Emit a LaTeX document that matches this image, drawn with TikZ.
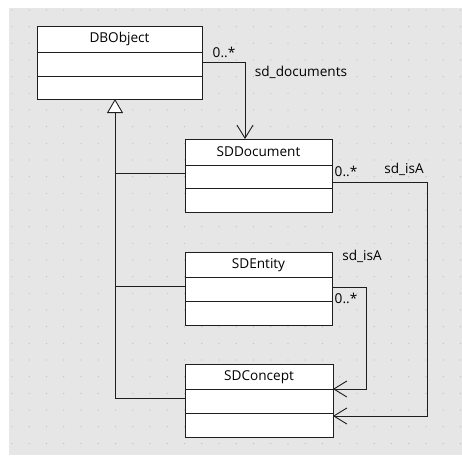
\documentclass[tikz,border=0pt]{standalone}
\usepackage{fontspec}
\setmainfont{Open Sans}
\usetikzlibrary{arrows.meta,calc,shadows}
\definecolor{bg}{HTML}{E6E6E6}
\definecolor{dotc}{HTML}{BEBEBE}
\definecolor{ln}{HTML}{1E1E1E}
\begin{document}
\begin{tikzpicture}[x=1pt,y=-1pt,font=\fontsize{13.6}{15}\selectfont,
  classbox/.style={draw=ln, fill=white, line width=0.9pt, minimum height=73pt,
    anchor=north west, inner sep=0pt, outer sep=0pt,
    drop shadow={shadow xshift=1.2pt, shadow yshift=-1.2pt, fill=gray!80, opacity=1}},
  title/.style={inner sep=0pt, text=black},
  lbl/.style={inner sep=0pt, text=black},
  divider/.style={draw=ln, line width=0.9pt},
  conn/.style={draw=ln, line width=0.9pt},
  assoc/.style={conn, -{Straight Barb[length=13pt,width=16pt,line width=0.9pt]}},
  gen/.style={conn, -{Triangle[open,length=14pt,width=16pt,fill=white,line width=0.9pt]}}
]
\useasboundingbox (0,0) rectangle (462,455);
\fill[bg] (9,8) rectangle (462,455);
\foreach \i in {0,...,26}
  \foreach \j in {0,...,26}
    \fill[dotc] ({12+17.25*\i},{10+16.67*\j}) circle (0.6);

% classes
\node[classbox, minimum width=165pt] (dbo) at (37,26) {};
\node[classbox, minimum width=147pt] (sddoc) at (185,139) {};
\node[classbox, minimum width=147pt] (sdent) at (185,252) {};
\node[classbox, minimum width=148pt] (sdcon) at (185,364) {};

\node[title] (dbot) at ($(dbo.north)+(0,13)$) {DBObject};
\node[title] (sddoct) at ($(sddoc.north)+(0,13)$) {SDDocument};
\node[title] (sdentt) at ($(sdent.north)+(0,13)$) {SDEntity};
\node[title] (sdcont) at ($(sdcon.north)+(0,13)$) {SDConcept};

\foreach \b/\a/\c in {dbo/26/50, sddoc/26/49, sdent/25/49, sdcon/25/49}{
  \draw[divider] ($(\b.north west)+(0,\a)$) -- ($(\b.north east)+(0,\a)$);
  \draw[divider] ($(\b.north west)+(0,\c)$) -- ($(\b.north east)+(0,\c)$);
}

% generalization
\coordinate (g) at ($(dbo.south west)+(78,0)$);
\coordinate (b1) at ($(sddoc.north west)+(0,34)$);
\coordinate (b2) at ($(sdent.north west)+(0,34)$);
\coordinate (b3) at ($(sdcon.north west)+(0,34)$);
\draw[conn] (b1) -- (b1 -| g);
\draw[conn] (b2) -- (b2 -| g);
\draw[conn] (b3) -- (b3 -| g);
\draw[gen] (b3 -| g) -- (g);

% sd_documents
\coordinate (a1) at ($(dbo.north east)+(0,36)$);
\coordinate (a1e) at ($(sddoc.north west)+(60,0)$);
\draw[assoc] (a1) -| (a1e);
\node[lbl] (m1) at (224,52) {0..*};
\node[lbl] (r1) at (301,72) {sd\_documents};

% sd_isA (SDDocument -> SDConcept)
\coordinate (s1) at ($(sddoc.north east)+(0,43)$);
\coordinate (e1) at ($(sdcon.north east)+(0,52)$);
\draw[assoc] (s1) -- ($(s1)+(95,0)$) |- (e1);
\node[lbl] (m2) at (346,171) {0..*};
\node[lbl] (r2) at (404,169) {sd\_isA};

% sd_isA (SDEntity -> SDConcept)
\coordinate (s2) at ($(sdent.north east)+(0,35)$);
\coordinate (e2) at ($(sdcon.north east)+(0,25)$);
\draw[assoc] (s2) -- ($(s2)+(34,0)$) |- (e2);
\node[lbl] (m3) at (346,298) {0..*};
\node[lbl] (r3) at (362,256) {sd\_isA};
\end{tikzpicture}
\end{document}
